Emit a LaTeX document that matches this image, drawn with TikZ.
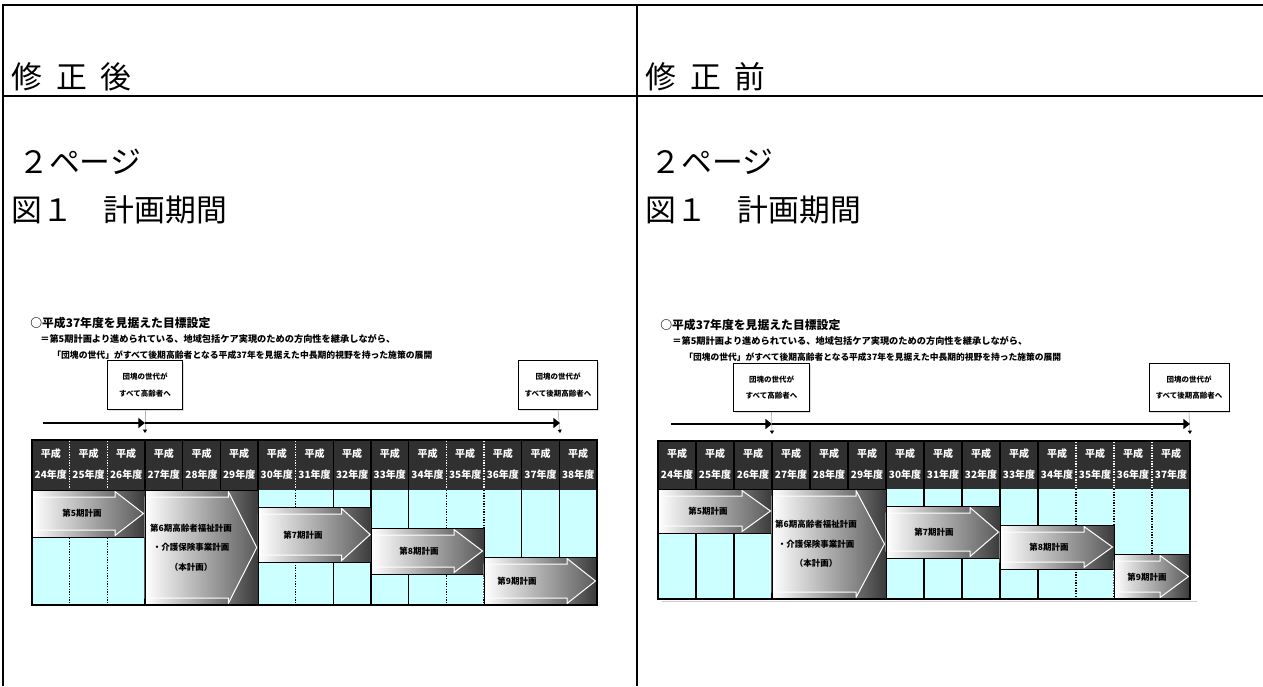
\documentclass[tikz,border=0pt]{standalone}
\usepackage{fontspec}
\newfontfamily\jp{Noto Sans CJK JP}
\usetikzlibrary{arrows.meta,shadows}
\definecolor{cyanbg}{HTML}{CCFFFF}
\definecolor{hdr}{HTML}{303030}
\definecolor{blkdark}{HTML}{3A3A3A}
\definecolor{arrdark}{HTML}{5C5C5C}
\newcommand{\planblk}[4]{%
  \pgfmathsetmacro\pbxb{#3-30}%
  \pgfmathsetmacro\pbym{(#2+#4)/2}%
  \pgfmathsetmacro\pbya{#2+7}%
  \pgfmathsetmacro\pbyb{#4-7}%
  \shade[left color=white,right color=blkdark] (#1,#2) rectangle (#3,#4);
  \path[draw=white,line width=0.6pt,left color=white,right color=arrdark]
    (#1,\pbya) -- (\pbxb,\pbya) -- (\pbxb,#2+1.5) -- (#3-1.5,\pbym) -- (\pbxb,#4-1.5) -- (\pbxb,\pbyb) -- (#1,\pbyb) -- cycle;
  \draw[line width=0.6pt] (#1,#2) rectangle (#3,#4);
}
\begin{document}
\begin{tikzpicture}[x=0.6pt,y=-0.6pt,
  frame/.style={line width=1.2pt},
  bigtxt/.style={font=\jp\fontsize{18.5pt}{22pt}\selectfont, inner sep=0pt, anchor=west},
  hdrtxt/.style={font=\jp\bfseries\fontsize{6pt}{13pt}\selectfont, text=white, align=center, inner sep=0pt},
  plantxt/.style={font=\jp\bfseries\fontsize{5.1pt}{11.7pt}\selectfont, align=center, inner sep=0pt},
  callout/.style={draw, line width=0.5pt, fill=white, minimum width=45pt, minimum height=29pt, align=center, font=\jp\bfseries\fontsize{4.5pt}{10pt}\selectfont, inner sep=1pt, drop shadow={shadow xshift=0.8pt, shadow yshift=-0.8pt, fill=gray!50}},
  mainline/.style={line width=1.5pt, -{Triangle[length=4pt,width=6pt]}},
  tick/.style={gray!60, line width=0.4pt, -{Triangle[length=2pt,width=2.4pt,black]}},
  solidsep/.style={line width=0.7pt},
  dotsep/.style={line width=0.8pt, dash pattern=on 0.8pt off 0.8pt},
  hdrdot/.style={white, line width=0.8pt, dash pattern=on 0.8pt off 0.8pt},
  ttl/.style={anchor=west, inner sep=0pt}]
\useasboundingbox (0,0) rectangle (1263,686);
\fill[white] (0,0) rectangle (1263,686);

% ---------- outer frame ----------
\draw[frame] (3,686) -- (3,5) -- (1263,5);
\draw[frame] (3,96) -- (1263,96);
\draw[frame] (637,5) -- (637,686);

\node[bigtxt] (hA) at (11,77) {修\hspace{0.45em}正\hspace{0.45em}後};
\node[bigtxt] (hB) at (645,77) {修\hspace{0.45em}正\hspace{0.45em}前};
\node[bigtxt] (pA) at (18,162) {２ページ};
\node[bigtxt] (pB) at (650,162) {２ページ};
\node[bigtxt] (fA) at (11,210) {図１　計画期間};
\node[bigtxt] (fB) at (645,210) {図１　計画期間};

% ================= LEFT DIAGRAM (修正後) =================
\node[ttl] (tL1) at (30,323) {\resizebox{108pt}{!}{\jp\bfseries ○平成37年度を見据えた目標設定}};
\node[ttl] (tL2) at (40,339) {\resizebox{213pt}{!}{\jp\bfseries ＝第5期計画より進められている、地域包括ケア実現のための方向性を継承しながら、}};
\node[ttl] (tL3) at (52,355) {\resizebox{228pt}{!}{\jp\bfseries 「団塊の世代」がすべて後期高齢者となる平成37年を見据えた中長期的視野を持った施策の展開}};

\node[callout] (cbL1) at (145,385) {団塊の世代が\\すべて高齢者へ};
\node[callout, minimum width=47pt] (cbL2) at (558,385) {団塊の世代が\\すべて後期高齢者へ};
\coordinate (tkL1) at (145,433);
\coordinate (tkL2) at (560,433);
\draw[tick] (cbL1.south) -- (tkL1);
\draw[tick] (cbL2.south) -- (tkL2);
\coordinate (maL0) at (43,423);
\coordinate (maL1) at (145,423);
\coordinate (maL2) at (560,423);
\draw[mainline] (maL0) -- (maL1);
\draw[mainline] (maL1) -- (maL2);

% body
\fill[cyanbg] (32,490) rectangle (597,605);
\foreach \k in {3,4,5,6,8,9,10,13,14}
  \draw[solidsep] ({32+37.667*\k},490) -- ({32+37.667*\k},605);
\foreach \k in {1,2,7,11,12}
  \draw[dotsep] ({32+37.667*\k},490) -- ({32+37.667*\k},605);
\planblk{32}{490}{145}{537}
\planblk{145}{490}{258.3}{605}
\planblk{258.3}{507}{371.7}{562}
\planblk{371.7}{528}{484}{574}
\planblk{484}{557}{597}{605}
\node[plantxt] (pL5) at (82,513.5) {第5期計画};
\node[plantxt] (pL6) at (191,547.5) {第6期高齢者福祉計画\\・介護保険事業計画\\（本計画）};
\node[plantxt] (pL7) at (303,535) {第7期計画};
\node[plantxt] (pL8) at (419,551) {第8期計画};
\node[plantxt] (pL9) at (517,581) {第9期計画};
% header
\fill[hdr] (32,440) rectangle (597,490);
\foreach \k in {3,4,5,6,8,9,10,13,14}
  \draw[solidsep] ({32+37.667*\k},440) -- ({32+37.667*\k},490);
\foreach \k in {1,2,7,11,12}
  \draw[hdrdot] ({32+37.667*\k},441) -- ({32+37.667*\k},489);
\foreach \yr [count=\i from 0] in {24,...,38}
  \node[hdrtxt] (hl\yr) at ({32+37.667*(\i+0.5)},464) {平成\\\yr{}年度};
\draw[line width=0.9pt] (32,440) rectangle (597,605);

% ================= RIGHT DIAGRAM (修正前) =================
\node[ttl] (tR1) at (660,325) {\resizebox{108pt}{!}{\jp\bfseries ○平成37年度を見据えた目標設定}};
\node[ttl] (tR2) at (672,341) {\resizebox{213pt}{!}{\jp\bfseries ＝第5期計画より進められている、地域包括ケア実現のための方向性を継承しながら、}};
\node[ttl] (tR3) at (684,357) {\resizebox{226pt}{!}{\jp\bfseries 「団塊の世代」がすべて後期高齢者となる平成37年を見据えた中長期的視野を持った施策の展開}};

\node[callout, minimum width=46pt] (cbR1) at (771.5,387.5) {団塊の世代が\\すべて高齢者へ};
\node[callout, minimum width=48pt] (cbR2) at (1189,387.5) {団塊の世代が\\すべて後期高齢者へ};
\coordinate (tkR1) at (772,434);
\coordinate (tkR2) at (1190,434);
\draw[tick] (cbR1.south) -- (tkR1);
\draw[tick] (cbR2.south) -- (tkR2);
\coordinate (maR0) at (671,424);
\coordinate (maR1) at (772,424);
\coordinate (maR2) at (1190,424);
\draw[mainline] (maR0) -- (maR1);
\draw[mainline] (maR1) -- (maR2);

\fill[cyanbg] (658,489) rectangle (1190,599);
\foreach \k in {1,...,10}
  \draw[solidsep] ({658+38*\k},489) -- ({658+38*\k},599);
\foreach \k in {11,12,13}
  \draw[dotsep] ({658+38*\k},489) -- ({658+38*\k},599);
\planblk{658}{489}{772}{533}
\planblk{772}{489}{886}{599}
\planblk{886}{506}{1000}{558}
\planblk{1000}{525}{1114}{569}
\planblk{1114}{554}{1190}{599}
\node[plantxt] (pR5) at (708,511) {第5期計画};
\node[plantxt] (pR6) at (816,544) {第6期高齢者福祉計画\\・介護保険事業計画\\（本計画）};
\node[plantxt] (pR7) at (934,532) {第7期計画};
\node[plantxt] (pR8) at (1049,547) {第8期計画};
\node[plantxt] (pR9) at (1147,577) {第9期計画};
\fill[hdr] (658,441) rectangle (1190,489);
\foreach \k in {1,...,10}
  \draw[solidsep] ({658+38*\k},441) -- ({658+38*\k},489);
\foreach \k in {11,12,13}
  \draw[hdrdot] ({658+38*\k},442) -- ({658+38*\k},488);
\foreach \yr [count=\i from 0] in {24,...,37}
  \node[hdrtxt] (hr\yr) at ({658+38*(\i+0.5)},464) {平成\\\yr{}年度};
\draw[line width=0.9pt] (658,441) rectangle (1190,599);
\draw[gray!40, line width=0.6pt] (662,601) -- (1197,601);
\end{tikzpicture}
\end{document}
